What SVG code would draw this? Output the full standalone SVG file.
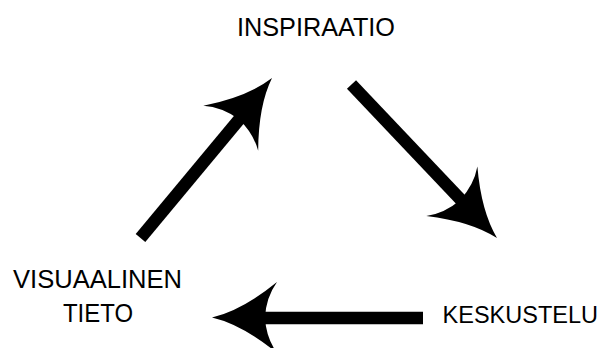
<svg xmlns="http://www.w3.org/2000/svg" xmlns:xlink="http://www.w3.org/1999/xlink" width="605" height="348" viewBox="0 0 605 348">
  <style>
    .lbl { font-family: "Liberation Sans", Arial, sans-serif; font-size: 25px; fill: #000; text-anchor: middle; }
    .shaft { stroke: #000; stroke-width: 12.5; stroke-linecap: butt; fill: none; }
    .head { fill: #000; stroke: none; }
  </style>
  <defs>
    <path id="head" d="M 0 0 Q -30 -7 -65 -35.5 Q -54 -20 -53 0 Q -54 20 -65 35.5 Q -30 7 0 0 Z"/>
  </defs>
  <rect width="605" height="348" fill="#fff"/>
  <g id="node-inspiraatio">
    <text class="lbl" x="316" y="36" textLength="158" lengthAdjust="spacingAndGlyphs">INSPIRAATIO</text>
  </g>
  <g id="node-keskustelu">
    <text class="lbl" x="598" y="323" style="font-size:23.5px;text-anchor:end">KESKUSTELU</text>
  </g>
  <g id="node-visuaalinen-tieto">
    <text class="lbl" x="97.5" y="288" textLength="169" lengthAdjust="spacingAndGlyphs">VISUAALINEN</text>
    <text class="lbl" x="98" y="322" textLength="70" lengthAdjust="spacingAndGlyphs">TIETO</text>
  </g>
  <g id="connectors">
    <g id="edge-inspiraatio-keskustelu">
      <line class="shaft" x1="351.5" y1="84.5" x2="462" y2="201"/>
      <use xlink:href="#head" href="#head" class="head" transform="translate(497 238) rotate(46)"/>
    </g>
    <g id="edge-keskustelu-visuaalinen">
      <line class="shaft" x1="423" y1="318" x2="262" y2="318"/>
      <use xlink:href="#head" href="#head" class="head" transform="translate(212 317.5) rotate(180)"/>
    </g>
    <g id="edge-visuaalinen-inspiraatio">
      <line class="shaft" x1="140.5" y1="238" x2="242" y2="116"/>
      <use xlink:href="#head" href="#head" class="head" transform="translate(272 78) rotate(-50.6)"/>
    </g>
  </g>
</svg>
